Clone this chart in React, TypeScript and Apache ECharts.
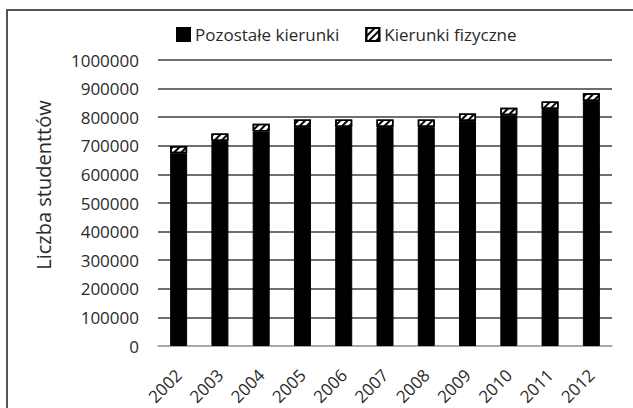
import React, { useEffect, useRef } from "react";
import * as echarts from "echarts";

const years = ["2002", "2003", "2004", "2005", "2006", "2007", "2008", "2009", "2010", "2011", "2012"];
const otherFields = [674000, 717000, 750000, 766000, 766000, 766000, 766000, 787000, 807000, 829000, 857000];
const physicsFields = [25000, 26000, 27000, 26000, 26000, 26000, 26000, 26000, 26000, 26000, 27000];
const seriesNames = ["Pozostałe kierunki", "Kierunki fizyczne"];
const yAxisName = "Liczba studenttów";

const FONT = "'Open Sans', sans-serif";
const TXT = "#2a2a2a";

export default function App() {
  const ref = useRef<HTMLDivElement>(null);
  useEffect(() => {
    if (!ref.current) return;
    const chart = echarts.init(ref.current, null, { renderer: "svg" });
    const hatch = {
      symbol: "rect",
      color: "#000",
      backgroundColor: "#fff",
      dashArrayX: [1, 0],
      dashArrayY: [2, 3],
      rotation: -Math.PI / 4,
      symbolSize: 1,
    };
    chart.setOption({
      animation: false,
      backgroundColor: "#fff",
      textStyle: { fontFamily: FONT },
      graphic: [
        {
          type: "rect",
          shape: { x: 7, y: 10, width: 700, height: 500 },
          style: { fill: "none", stroke: "#555", lineWidth: 2 },
          silent: true,
          z: 100,
        },
        {
          type: "text",
          x: 43,
          y: 185,
          rotation: Math.PI / 2,
          style: {
            text: yAxisName,
            fontFamily: FONT,
            fontSize: 20,
            fill: TXT,
            align: "center",
            verticalAlign: "middle",
          },
          silent: true,
        },
      ],
      legend: {
        top: 21,
        left: 171,
        itemWidth: 13,
        itemHeight: 13,
        itemGap: 26,
        textStyle: { fontFamily: FONT, fontSize: 17, color: TXT },
        data: [
          { name: seriesNames[0], icon: "rect" },
          { name: seriesNames[1], icon: "rect" },
        ],
      },
      grid: { left: 158, right: 21, top: 60, bottom: 62, containLabel: false },
      xAxis: {
        type: "category",
        data: years,
        axisLine: { show: true, lineStyle: { color: "#bdbdbd", width: 1.5 } },
        axisTick: { show: false },
        axisLabel: {
          rotate: 45,
          margin: 26,
          fontFamily: FONT,
          fontSize: 17,
          color: TXT,
          interval: 0,
        },
      },
      yAxis: {
        type: "value",
        min: 0,
        max: 1000000,
        interval: 100000,
        axisLine: { show: false },
        axisTick: { show: false },
        axisLabel: {
          fontFamily: FONT,
          fontSize: 17,
          color: TXT,
          margin: 19,
          formatter: (v: number) => String(v),
        },
        splitLine: { lineStyle: { color: "#3f3f3f", width: 1.5 } },
      },
      series: [
        {
          name: seriesNames[0],
          type: "bar",
          stack: "total",
          data: otherFields,
          barWidth: 17,
          itemStyle: { color: "#000", borderColor: "#000", borderWidth: 1 },
        },
        {
          name: seriesNames[1],
          type: "bar",
          stack: "total",
          data: physicsFields,
          barWidth: 17,
          itemStyle: { color: "#fff", borderColor: "#000", borderWidth: 1.5, decal: hatch },
        },
      ],
    });
    return () => chart.dispose();
  }, []);
  return (
    <div
      ref={ref}
      style={{ position: "fixed", left: 0, top: 0, width: 633, height: 408 }}
    />
  );
}
